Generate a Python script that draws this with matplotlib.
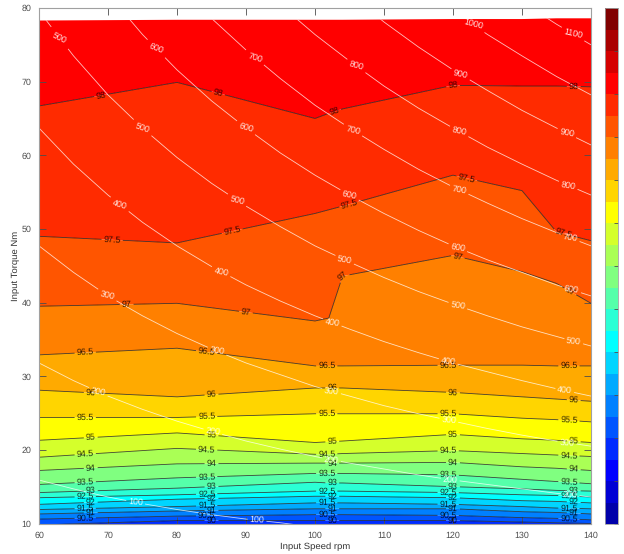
import numpy as np
import matplotlib
matplotlib.use('Agg')
import matplotlib.pyplot as plt
from matplotlib.patches import Polygon

plt.rcParams['font.family'] = ['Liberation Sans', 'DejaVu Sans']
plt.rcParams['text.hinting'] = 'none'

GREY = '#4d4d4d'

# efficiency map: torque (Nm) where each efficiency level is reached, per speed
speeds = [60, 80, 100, 102, 104, 120, 130, 135, 140]
eff_levels = [89.5, 90, 90.5, 91, 91.5, 92, 92.5, 93, 93.5, 94, 94.5, 95, 95.5,
              96, 96.5, 97, 97.5, 98, 98.4]
t_floor = [9.0, 9.0, 9.0, 9.0, 9.0, 9.0, 9.0, 9.0, 9.0]
t_90 = [9.8, 10.4, 10.4, 10.4, 10.4, 10.4, 10.2, 10.1, 10.0]
t_90_5 = [10.6, 11.0, 11.2, 11.2, 11.2, 11.1, 10.8, 10.7, 10.5]
t_91 = [11.3, 11.7, 12.0, 12.0, 12.0, 12.0, 11.6, 11.5, 11.3]
t_91_5 = [11.9, 12.3, 12.8, 12.8, 12.8, 12.6, 12.3, 12.1, 12.0]
t_92 = [12.6, 13.3, 13.7, 13.7, 13.7, 13.5, 13.1, 13.0, 12.8]
t_92_5 = [13.5, 13.9, 14.4, 14.4, 14.4, 14.2, 13.9, 13.8, 13.6]
t_93 = [14.2, 14.8, 15.6, 15.5, 15.5, 15.0, 14.7, 14.5, 14.4]
t_93_5 = [15.3, 16.2, 16.8, 16.8, 16.8, 16.6, 16.0, 15.7, 15.4]
t_94 = [17.2, 18.1, 18.2, 18.2, 18.2, 18.3, 17.7, 17.5, 17.2]
t_94_5 = [19.0, 20.2, 19.4, 19.4, 19.5, 19.9, 19.5, 19.3, 19.1]
t_95 = [21.3, 22.3, 21.0, 21.1, 21.2, 22.1, 21.5, 21.3, 21.0]
t_95_5 = [24.4, 24.4, 24.9, 24.9, 24.9, 24.9, 24.3, 24.1, 23.8]
t_96 = [28.1, 27.2, 28.4, 28.4, 28.4, 27.8, 27.2, 26.9, 26.6]
t_96_5 = [32.9, 33.8, 31.4, 31.4, 31.4, 31.5, 31.5, 31.4, 31.4]
t_97 = [39.5, 39.9, 37.5, 37.9, 43.6, 46.4, 44.2, 42.6, 39.9]
t_97_5 = [49.0, 48.1, 52.1, 52.6, 53.1, 57.3, 55.2, 49.6, 48.4]
t_98 = [66.7, 69.9, 65.0, 65.7, 66.3, 69.5, 69.4, 69.4, 69.3]
t_top = [78.3, 78.4, 78.4, 78.4, 78.4, 78.5, 78.5, 78.6, 78.6]

# white power lines: torque (Nm) for each power level, per speed
power_speeds = [60, 65, 70, 75, 80, 85, 90, 95, 100, 105, 110, 115, 120, 125, 130, 135, 140]
power_levels = [100, 200, 300, 400, 500, 600, 700, 800, 900, 1000, 1100, 1200]
p_100 = [15.9, 14.7, 13.6, 12.7, 11.9, 11.2, 10.6, 10.1, 9.5, 9.1, 8.7, 8.3, 8.0, 7.6, 7.3, 7.1, 6.8]
p_200 = [31.8, 29.4, 27.3, 25.5, 23.9, 22.5, 21.2, 20.1, 19.1, 18.2, 17.4, 16.6, 15.9, 15.3, 14.7, 14.1, 13.6]
p_300 = [47.7, 44.1, 40.9, 38.2, 35.8, 33.7, 31.8, 30.2, 28.6, 27.3, 26.0, 24.9, 23.9, 22.9, 22.0, 21.2, 20.5]
p_400 = [63.7, 58.8, 54.6, 50.9, 47.7, 44.9, 42.4, 40.2, 38.2, 36.4, 34.7, 33.2, 31.8, 30.6, 29.4, 28.3, 27.3]
p_500 = [79.6, 73.5, 68.2, 63.7, 59.7, 56.2, 53.1, 50.3, 47.7, 45.5, 43.4, 41.5, 39.8, 38.2, 36.7, 35.4, 34.1]
p_600 = [95.5, 88.1, 81.9, 76.4, 71.6, 67.4, 63.7, 60.3, 57.3, 54.6, 52.1, 49.8, 47.7, 45.8, 44.1, 42.4, 40.9]
p_700 = [111.4, 102.8, 95.5, 89.1, 83.6, 78.6, 74.3, 70.4, 66.8, 63.7, 60.8, 58.1, 55.7, 53.5, 51.4, 49.5, 47.7]
p_800 = [127.3, 117.5, 109.1, 101.9, 95.5, 89.9, 84.9, 80.4, 76.4, 72.8, 69.4, 66.4, 63.7, 61.1, 58.8, 56.6, 54.6]
p_900 = [143.2, 132.2, 122.8, 114.6, 107.4, 101.1, 95.5, 90.5, 85.9, 81.9, 78.1, 74.7, 71.6, 68.8, 66.1, 63.7, 61.4]
p_1000 = [159.2, 146.9, 136.4, 127.3, 119.4, 112.3, 106.1, 100.5, 95.5, 91.0, 86.8, 83.0, 79.6, 76.4, 73.5, 70.7, 68.2]
p_1100 = [175.1, 161.6, 150.1, 140.1, 131.3, 123.6, 116.7, 110.6, 105.0, 100.0, 95.5, 91.3, 87.5, 84.0, 80.8, 77.8, 75.0]
p_1200 = [191.0, 176.3, 163.7, 152.8, 143.2, 134.8, 127.3, 120.6, 114.6, 109.1, 104.2, 99.6, 95.5, 91.7, 88.2, 84.9, 81.9]

colorbar_ticks = [88, 89, 90, 91, 92, 93, 94, 95, 96, 97, 98, 99, 100]


def jet_colors(m):
    # same steps as the jet(m) of the original tool
    n = int(np.ceil(m / 4))
    u = np.r_[np.arange(1, n + 1) / n, np.ones(n - 1), np.arange(n, 0, -1) / n]
    g = int(np.ceil(n / 2)) - (m % 4 == 1) + np.arange(1, len(u) + 1)
    r, b = g + n, g - n
    out = np.zeros((m, 3))
    out[r[r <= m] - 1, 0] = u[r <= m]
    out[g[g <= m] - 1, 1] = u[g <= m]
    out[b[b >= 1] - 1, 2] = u[b >= 1]
    return out


eff_rows = np.array([t_floor, t_90, t_90_5, t_91, t_91_5, t_92, t_92_5, t_93, t_93_5, t_94,
                     t_94_5, t_95, t_95_5, t_96, t_96_5, t_97, t_97_5, t_98, t_top])
X, _ = np.meshgrid(speeds, eff_levels)
Z = np.tile(np.array(eff_levels)[:, None], (1, len(speeds)))

power_rows = np.array([p_100, p_200, p_300, p_400, p_500, p_600, p_700, p_800, p_900,
                       p_1000, p_1100, p_1200])
PX, _ = np.meshgrid(power_speeds, power_levels)
PZ = np.tile(np.array(power_levels)[:, None], (1, len(power_speeds)))

W, H = 624, 554
fig = plt.figure(figsize=(W / 100, H / 100), dpi=100)
ax = fig.add_axes([39 / W, 1 - 523.5 / H, 552 / W, 515.5 / H])
cax = fig.add_axes([605 / W, 1 - 524 / H, 13 / W, 516 / H])

fill_levels = np.arange(88, 100.5, 0.5)
filled = ax.contourf(X, eff_rows, Z, levels=fill_levels, colors=[tuple(c) for c in jet_colors(24)])
filled.set_snap(False)
filled.set_antialiased(True)
lines = ax.contour(X, eff_rows, Z, levels=np.arange(90, 98.5, 0.5), colors='#1a1a1a', linewidths=0.6, alpha=0.8)

# label spots along the lines, same speed columns as the original
top_labels = [(69, 98), (86, 98), (102.8, 98), (120, 98), (137.5, 98),
              (70.6, 97.5), (88, 97.5), (105, 97.5), (122, 97.5), (136, 97.5),
              (72.7, 97), (90, 97), (104, 97), (120.7, 97), (137, 97)]
spots = []
for s, lev in top_labels:
    spots.append((s, np.interp(s, speeds, eff_rows[eff_levels.index(lev)])))
for lev in np.arange(90.5, 97, 0.5):
    cols = [67.5, 85, 102.5, 120, 137.5] if lev == int(lev) else [66.7, 84.3, 101.7, 119.3, 136.8]
    for s in cols:
        spots.append((s, np.interp(s, speeds, eff_rows[eff_levels.index(lev)])))
for s in [85, 102.5, 120]:
    spots.append((s, np.interp(s, speeds, t_90)))
ax.clabel(lines, manual=spots, fmt='%g', fontsize=6.4, colors='black', inline_spacing=2)

white = ax.contour(PX, power_rows, PZ, levels=power_levels[:-1], colors='white', linewidths=0.6, alpha=0.75)
edge = list(zip(speeds, t_top)) + [(140, 0), (60, 0)]
white.set_clip_path(Polygon(edge, transform=ax.transData))

white_labels = {100: [74, 91.6],
                200: [68.6, 85.2, 102.4, 119.6, 137],
                300: [69.9, 85.8, 102.4, 119.4, 136.5],
                400: [71.7, 86.4, 102.5, 119.3, 136.2],
                500: [63, 75, 88.7, 104.3, 120.7, 137.5],
                600: [77, 90, 105, 120.7, 137.2],
                700: [91.3, 105.5, 120.9, 137],
                800: [106, 120.9, 136.7],
                900: [121.1, 136.5],
                1000: [122.9],
                1100: [137.4]}
spots = []
for lev, cols in white_labels.items():
    for s in cols:
        spots.append((s, np.interp(s, power_speeds, power_rows[power_levels.index(lev)])))
labels = ax.clabel(white, manual=spots, fmt='%g', fontsize=6.4, colors='white', inline_spacing=2)
for t in labels:
    t.set_alpha(0.9)

ax.set_xlim(60, 140)
ax.set_ylim(10, 80)
ax.set_xticks(range(60, 150, 10))
ax.set_yticks(range(10, 90, 10))
ax.tick_params(direction='in', top=True, right=True, length=5, width=0.6, color=GREY,
               labelcolor=GREY, labelsize=6.4, pad=5.5)
ax.set_xlabel('Input Speed rpm', fontsize=6.8, color='#333333', labelpad=2.5)
ax.set_ylabel('Input Torque Nm', fontsize=6.8, color='#333333', labelpad=1)
for sp in ax.spines.values():
    sp.set_color('#a0a0a0')
    sp.set_linewidth(0.8)

cbar = fig.colorbar(filled, cax=cax)
cbar.set_ticks(colorbar_ticks)
cbar.ax.minorticks_off()
cbar.ax.tick_params(direction='in', length=3, width=0.6, color=GREY, labelcolor=GREY, labelsize=6.4, pad=4)
cbar.outline.set_edgecolor('#a0a0a0')
cbar.outline.set_linewidth(0.6)

plt.savefig('out.png', dpi=100)
plt.close()
